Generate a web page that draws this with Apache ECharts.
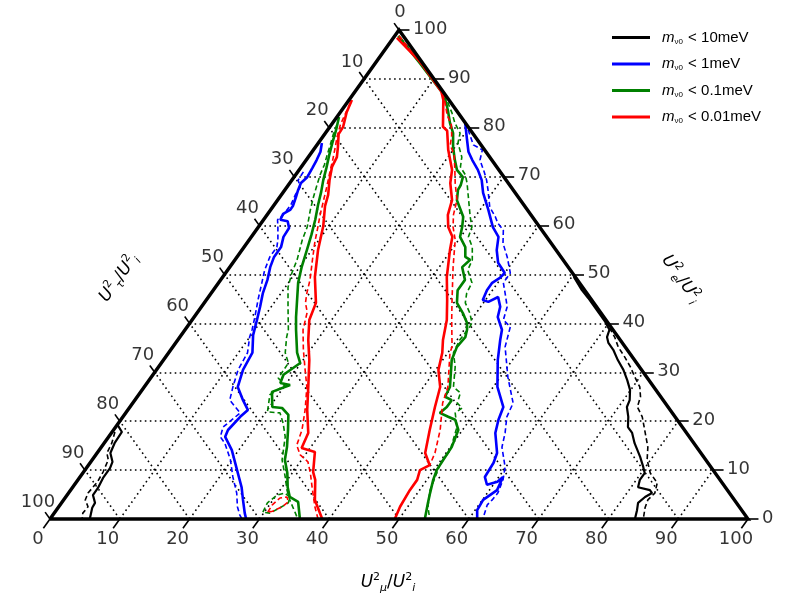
<!DOCTYPE html>
<html>
<head>
<meta charset="utf-8">
<script src="https://cdn.jsdelivr.net/npm/echarts@6/dist/echarts.min.js"></script>
<style>
html, body { margin: 0; padding: 0; background: #fff; }
#chart { width: 788px; height: 597px; }
</style>
</head>
<body>
<div id="chart"></div>
<script>
// Ternary composition plot. Every point is [U_mu^2/U_i^2, U_e^2/U_i^2] in percent;
// the U_tau^2/U_i^2 share is the remainder to 100.

const tickValues = [0, 10, 20, 30, 40, 50, 60, 70, 80, 90, 100];
const tickLabels = ['0', '10', '20', '30', '40', '50', '60', '70', '80', '90', '100'];
const gridSteps = [10, 20, 30, 40, 50, 60, 70, 80, 90];
const massLimits = ['10', '1', '0.1', '0.01'];   // m_nu0 upper limits in meV

// m_nu0 < 10 meV
const blackLeftSolid = [[0.1,19.2],[1.4,17.8],[1.5,15.5],[1.9,13.5],[3.1,11.7],[3.4,10.4],[3.4,8.4],[3.7,6.3],[3.7,4.9],[4.8,3.3],[4.9,2.3],[5.7,0]];
const blackLeftDashed = [[0.4,17.8],[1.1,15.5],[1.4,13.5],[2.3,12.1],[2.8,9.6],[3.0,7.6],[2.8,5.3],[3.1,3.9],[4.2,2.5],[4.1,1.2],[4.6,0]];
const blackRightSolid = [[50.3,49.5],[52.8,46.8],[54.5,45.2],[57.0,42.7],[59.4,40.3],[60.8,38.7],[61.2,37.2],[62.0,36.0],[63.4,34.6],[65.1,32.5],[66.9,30.5],[68.5,28.4],[69.9,26.4],[70.9,24.3],[71.2,22.9],[72.4,20.9],[73.4,18.8],[74.6,17.6],[76.0,15.5],[78.2,12.7],[79.7,10.6],[80.5,9.4],[80.5,8.0],[81.0,6.5],[83.0,5.9],[83.6,5.3],[83.0,4.5],[82.6,3.3],[83.2,1.8],[83.8,0]];
const blackRightDashed = [[60.6,39.1],[62.3,37.2],[63.8,35.2],[65.8,33.1],[67.6,31.1],[69.3,29.0],[71.0,27.0],[72.1,25.0],[72.7,22.9],[74.4,20.9],[76.1,18.2],[78.3,14.7],[79.5,12.1],[81.3,9.4],[83.3,7.4],[84.0,5.3],[83.7,3.9],[84.1,2.3],[85.0,0]];

// m_nu0 < 1 meV
const blueLeftSolid = [[0.5,76.9],[1.2,75.1],[1.5,73.4],[1.7,71.8],[1.9,69.9],[1.6,68.7],[1.9,67.3],[2.3,65.9],[2.8,64.0],[2.8,63.2],[2.2,62.4],[2.4,61.2],[3.6,60.9],[4.5,59.5],[4.6,57.7],[5.3,55.6],[5.3,53.6],[5.8,51.5],[6.7,48.9],[7.4,46.2],[8.4,43.4],[9.3,40.7],[10.3,37.6],[12.0,34.0],[12.4,30.5],[13.4,27.0],[15.5,24.3],[17.2,22.3],[16.8,20.9],[16.4,18.2],[16.7,16.8],[19.0,14.1],[21.8,10.0],[24.2,6.5],[25.7,3.9],[27.3,1.2],[28.1,0]];
const blueLeftDashed = [[0.8,71.0],[0.9,69.3],[1.9,67.9],[2.0,66.3],[2.4,64.2],[2.3,62.2],[2.0,61.2],[2.9,59.5],[4.1,57.1],[4.7,55.6],[4.7,53.6],[5.3,50.9],[6.2,48.3],[7.4,44.8],[8.7,41.3],[9.6,38.7],[10.0,37.2],[11.3,34.0],[11.7,30.5],[12.7,27.0],[13.6,24.3],[16.4,21.7],[15.4,18.8],[16.0,16.8],[17.3,15.5],[19.8,12.1],[21.9,8.6],[24.1,5.3],[25.6,2.5],[26.8,0.8],[27.5,0]];
const blueRightSolid = [[19.1,80.8],[21.0,77.5],[22.4,75.1],[23.8,73.4],[25.6,71.4],[27.2,69.3],[28.7,66.7],[31.2,63.2],[33.6,59.7],[35.4,57.7],[36.5,55.0],[38.0,52.4],[40.0,50.3],[39.8,49.3],[39.2,48.3],[39.2,46.8],[39.6,44.8],[40.6,44.4],[41.5,45.4],[42.8,43.4],[43.5,41.3],[45.4,38.7],[46.2,36.6],[47.9,32.5],[50.6,27.0],[53.5,22.9],[54.1,20.3],[55.0,17.6],[57.3,13.5],[57.8,11.5],[58.0,8.6],[59.1,7.0],[60.3,7.6],[60.6,8.6],[61.1,5.9],[60.1,3.9],[60.3,1.8],[61.2,0]];
const blueRightDashed = [[20.1,79.6],[22.4,76.5],[24.2,75.5],[24.9,73.4],[26.7,71.0],[27.9,69.3],[29.1,67.3],[31.1,63.8],[32.9,61.8],[33.9,60.5],[35.4,59.1],[36.7,56.4],[38.7,53.6],[40.8,50.3],[40.8,48.3],[42.1,46.2],[43.8,43.4],[44.6,40.7],[46.3,39.3],[47.6,35.2],[51.1,29.0],[54.5,23.7],[55.0,20.9],[56.4,17.6],[57.4,14.7],[59.9,10.6],[60.9,8.0],[61.5,5.3],[61.4,3.9],[61.2,2.9],[62.0,0]];

// m_nu0 < 0.1 meV
const greenLeftSolid = [[0.3,82.2],[1.2,79.6],[2.0,76.9],[2.8,74.4],[3.7,71.8],[4.5,69.3],[5.4,66.9],[6.3,64.2],[7.4,61.2],[8.4,58.1],[9.3,55.0],[10.3,51.5],[11.4,48.3],[13.0,44.8],[14.6,41.3],[15.9,38.7],[18.4,34.0],[19.9,31.9],[18.7,29.5],[19.1,27.8],[20.7,27.4],[18.8,26.0],[20.4,22.9],[21.9,22.7],[23.5,21.3],[25.0,18.2],[26.6,14.7],[27.6,12.1],[29.3,9.4],[30.8,6.5],[32.1,4.5],[33.8,3.5],[35.8,0]];
const greenLeftDashed = [[0.8,80.6],[1.3,78.5],[1.9,76.5],[2.5,74.4],[3.1,72.4],[3.5,70.4],[4.1,68.3],[4.9,65.6],[5.7,63.2],[7.0,59.7],[7.6,57.1],[8.9,53.0],[9.5,50.3],[10.4,47.4],[12.4,43.4],[14.8,38.7],[15.3,37.2],[16.7,34.0],[18.2,31.9],[18.3,28.8],[20.0,27.4],[18.8,25.4],[20.2,21.9],[22.1,21.7],[23.6,19.6],[25.3,16.8],[27.2,12.1],[29.4,8.6],[31.0,5.9],[32.4,3.9],[34.4,1.4],[35.5,0]];
const greenRightSolid = [[0.5,98.8],[6.5,93.1],[12.5,87.3],[13.4,86.3],[15.2,83.6],[16.8,81.0],[18.3,78.9],[19.7,76.1],[21.3,73.4],[22.6,71.4],[24.2,69.9],[24.7,68.3],[24.8,67.3],[25.7,65.2],[28.3,61.8],[29.2,59.7],[29.9,57.7],[31.7,55.6],[32.7,53.6],[33.7,53.0],[33.3,51.5],[35.0,48.9],[35.0,46.8],[36.2,44.2],[38.1,42.1],[39.7,40.1],[40.4,38.7],[40.9,37.2],[40.7,35.2],[41.3,32.5],[43.8,27.0],[44.1,25.0],[45.4,24.3],[45.4,22.9],[45.0,21.7],[46.6,20.9],[47.9,20.3],[49.4,18.2],[50.2,14.7],[50.3,12.1],[50.4,10.0],[50.9,8.0],[51.8,5.3],[52.5,3.3],[53.7,0]];
const greenRightDashed = [[1.0,98.4],[6.5,93.3],[12.7,87.1],[14.0,85.7],[16.1,83.0],[17.5,81.0],[19.3,78.9],[20.0,76.9],[22.0,74.0],[22.8,72.0],[24.3,70.4],[25.4,68.7],[29.3,61.8],[30.6,59.7],[31.1,57.7],[32.7,55.6],[34.0,53.0],[34.4,50.9],[36.3,48.3],[36.6,46.2],[37.4,44.2],[39.1,42.1],[40.4,40.1],[40.5,39.3],[40.4,36.6],[40.8,34.0],[42.5,31.1],[44.3,27.0],[45.9,25.8],[46.5,23.7],[47.7,22.7],[47.2,21.7],[48.9,18.8],[50.3,14.1],[50.2,11.5],[50.9,8.6],[51.5,5.9],[52.9,2.5],[54.4,0]];
const greenIsland = [[29.8,1.4],[29.5,3.3],[30.1,4.9],[31.0,5.3],[32.1,4.5],[32.5,3.3],[31.8,2.3],[30.9,1.2],[29.8,1.4]];

// m_nu0 < 0.01 meV
const redLeftSolid = [[0.4,85.7],[0.9,83.2],[1.9,80.2],[2.0,78.7],[3.2,76.1],[4.1,74.0],[4.4,72.0],[5.4,69.3],[6.7,66.3],[7.4,64.0],[9.2,59.9],[10.9,55.0],[13.2,49.5],[16.0,44.2],[16.8,40.7],[18.7,36.6],[20.9,32.5],[23.5,27.0],[25.7,22.3],[28.2,17.6],[28.8,14.5],[31.1,13.7],[32.9,9.6],[34.0,8.0],[36.0,3.9],[39.0,0]];
const redLeftDashed = [[0.5,85.1],[1.0,82.2],[1.3,80.6],[2.0,78.3],[2.9,75.9],[3.8,73.4],[4.6,71.0],[5.7,67.9],[6.6,65.2],[7.6,62.2],[8.6,59.5],[9.6,56.7],[11.1,53.0],[12.8,48.9],[13.7,46.2],[14.5,44.2],[15.7,42.3],[16.9,38.7],[19.0,34.6],[21.3,30.5],[23.3,27.0],[25.4,22.3],[27.0,18.2],[27.8,15.1],[29.3,13.1],[31.1,11.7],[32.6,9.4],[34.3,6.5],[36.7,2.5],[38.4,0]];
const redRightSolid = [[0.5,98.4],[6.3,93.5],[12.3,87.5],[13.5,85.7],[16.2,80.2],[17.2,79.4],[19.3,75.5],[21.9,71.4],[23.0,68.7],[25.0,65.2],[25.9,62.2],[27.2,59.7],[28.8,57.7],[29.8,55.0],[32.1,49.5],[34.5,44.8],[36.5,40.7],[38.0,36.6],[39.2,34.0],[40.4,30.5],[42.4,27.0],[43.7,22.9],[45.3,18.2],[47.0,13.5],[48.9,11.0],[48.0,10.0],[48.6,8.0],[48.6,5.9],[48.9,2.5],[49.4,0]];
const redRightDashed = [[0.6,98.8],[6.6,93.1],[12.9,86.9],[14.3,84.7],[15.6,82.6],[17.2,80.6],[18.3,78.5],[19.1,76.5],[20.7,74.4],[22.3,71.4],[23.7,68.7],[25.7,65.2],[26.7,62.2],[27.9,59.7],[29.5,57.1],[32.0,51.5],[35.2,44.8],[37.2,40.7],[40.0,35.2],[40.3,34.0],[43.5,27.0],[44.4,23.7],[46.8,18.2],[48.4,13.5],[48.9,11.0]];
const redIsland = [[30.5,1.4],[30.4,2.9],[30.8,4.3],[31.7,4.5],[32.4,3.5],[32.0,2.5],[31.1,1.6],[30.5,1.4]];

// ---------------------------------------------------------------------------
// Ternary -> plane: x runs along the mu axis, y is the e share.
const toXY = p => [p[0] + p[1] / 2, p[1]];

const FONT = 'DejaVu Sans';
const seriesList = [];

// dotted grid: constant e, constant mu, constant tau
const gridCoords = [];
gridSteps.forEach(k => {
  gridCoords.push({ coords: [toXY([0, k]), toXY([100 - k, k])] });
  gridCoords.push({ coords: [toXY([k, 0]), toXY([k, 100 - k])] });
  gridCoords.push({ coords: [toXY([100 - k, 0]), toXY([0, 100 - k])] });
});
seriesList.push({
  type: 'lines', coordinateSystem: 'cartesian2d', silent: true, z: 1, clip: false,
  data: gridCoords,
  lineStyle: { color: '#000', width: 1.6, type: [1.6, 3.4], opacity: 1 }
});

// curves
function curve(name, pts, color, dashed) {
  seriesList.push({
    name: name, type: 'line', data: pts.map(toXY), z: 3, clip: false,
    symbol: 'none', showSymbol: false, silent: true, smooth: false,
    itemStyle: { color: color },
    lineStyle: dashed ? { color: color, width: 1.6, type: [5, 3] }
                      : { color: color, width: color === '#000000' ? 2.2 : 2.6, type: 'solid' },
    emphasis: { disabled: true }
  });
}
const S_BLACK = 'lim0', S_BLUE = 'lim1', S_GREEN = 'lim2', S_RED = 'lim3';
curve(S_BLACK, blackLeftSolid, '#000000', false);
curve(S_BLACK, blackRightSolid, '#000000', false);
curve(S_BLACK, blackLeftDashed, '#000000', true);
curve(S_BLACK, blackRightDashed, '#000000', true);
curve(S_BLUE, blueLeftSolid, '#0000ff', false);
curve(S_BLUE, blueRightSolid, '#0000ff', false);
curve(S_BLUE, blueLeftDashed, '#0000ff', true);
curve(S_BLUE, blueRightDashed, '#0000ff', true);
curve(S_GREEN, greenLeftSolid, '#008000', false);
curve(S_GREEN, greenRightSolid, '#008000', false);
curve(S_GREEN, greenLeftDashed, '#008000', true);
curve(S_GREEN, greenRightDashed, '#008000', true);
curve(S_GREEN, greenIsland, '#008000', true);
curve(S_RED, redLeftSolid, '#ff0000', false);
curve(S_RED, redRightSolid, '#ff0000', false);
curve(S_RED, redLeftDashed, '#ff0000', true);
curve(S_RED, redRightDashed, '#ff0000', true);
curve(S_RED, redIsland, '#ff0000', true);

// triangle frame
seriesList.push({
  type: 'lines', coordinateSystem: 'cartesian2d', polyline: true, silent: true, z: 5, clip: false,
  data: [{ coords: [toXY([0, 0]), toXY([100, 0]), toXY([0, 100]), toXY([0, 0])] }],
  lineStyle: { color: '#000', width: 3.4, opacity: 1, join: 'miter' }
});

// ticks on the three sides
const tickCoords = [];
tickValues.forEach(v => {
  tickCoords.push({ coords: [toXY([v, 0]), toXY([v, -1.9])] });                  // mu axis
  tickCoords.push({ coords: [toXY([100 - v, v]), toXY([100 - v + 1.5, v])] });   // e axis
  tickCoords.push({ coords: [toXY([0, 100 - v]), toXY([-1.4, 100 - v + 1.4])] }); // tau axis
});
seriesList.push({
  type: 'lines', coordinateSystem: 'cartesian2d', silent: true, z: 5, clip: false,
  data: tickCoords,
  lineStyle: { color: '#000', width: 1.6, opacity: 1 }
});

// tick labels
const labelFont = { fontFamily: FONT, fontSize: 18, color: '#000' };
function tickLabelSeries(points, labelCfg) {
  seriesList.push({
    type: 'scatter', silent: true, z: 6, symbolSize: 1, clip: false,
    itemStyle: { color: 'rgba(0,0,0,0)' },
    data: points,
    label: Object.assign({ show: true, position: 'inside', formatter: p => p.data.text }, labelFont, labelCfg),
    emphasis: { disabled: true }
  });
}
tickLabelSeries(tickValues.map((v, i) => ({ value: toXY([v, 0]), text: tickLabels[i] })),
  { offset: [-12, 20] });
tickLabelSeries(tickValues.map((v, i) => ({ value: toXY([100 - v, v]), text: tickLabels[i] })),
  { align: 'left', offset: [14, -1] });
tickLabelSeries(tickValues.map((v, i) => {
  const item = { value: toXY([0, 100 - v]), text: tickLabels[i] };
  if (v === 0) item.label = { offset: [1, -18] };   // apex label sits above the corner
  return item;
}), { offset: [-12, -17] });

// axis titles with super/subscripts
const titleRich = {
  u: { fontFamily: FONT, fontStyle: 'italic', fontSize: 17, lineHeight: 26, fill: '#000', color: '#000' },
  p: { fontFamily: FONT, fontSize: 11, lineHeight: 26, verticalAlign: 'top', fill: '#000', color: '#000', padding: [2, 0, 0, 0] },
  b: { fontFamily: FONT, fontStyle: 'italic', fontSize: 11, lineHeight: 26, verticalAlign: 'bottom', fill: '#000', color: '#000', padding: [0, 0, 2, 0] },
  s: { fontFamily: FONT, fontSize: 17, lineHeight: 26, fill: '#000', color: '#000' }
};
function axisTitle(sub, x, y, rot) {
  return {
    type: 'text', x: x, y: y, rotation: rot, silent: true, z: 10,
    style: {
      text: '{u|U}{p|2}{b|' + sub + '}{s|/}{u|U}{p|2}{b|i}',
      rich: titleRich,
      align: 'center', verticalAlign: 'middle',
      textAlign: 'center', textVerticalAlign: 'middle'
    }
  };
}
const SLOPE = Math.atan2(489, 349);

const legendRich = {
  m: { fontFamily: 'Liberation Sans', fontStyle: 'italic', fontSize: 15, lineHeight: 18, color: '#000', padding: [0, 0, 0, 7] },
  s: { fontFamily: 'Liberation Sans', fontSize: 8, lineHeight: 18, color: '#000', verticalAlign: 'bottom', padding: [0, 1, 1, 0] },
  t: { fontFamily: 'Liberation Sans', fontSize: 15, lineHeight: 18, color: '#000' }
};
const legendNames = [S_BLACK, S_BLUE, S_GREEN, S_RED];

const chart = echarts.init(document.getElementById('chart'), null, { renderer: 'canvas' });
chart.setOption({
  animation: false,
  backgroundColor: '#fff',
  grid: { left: 50, top: 30, width: 698, height: 489, containLabel: false },
  xAxis: { type: 'value', min: 0, max: 100, show: false },
  yAxis: { type: 'value', min: 0, max: 100, show: false },
  legend: {
    orient: 'vertical', left: 612, top: 30, padding: 0,
    itemWidth: 38, itemHeight: 3, itemGap: 10, icon: 'rect',
    selectedMode: false,
    data: legendNames,
    formatter: name => '{m|m}{s|ν0}{t| < ' + massLimits[legendNames.indexOf(name)] + 'meV}',
    textStyle: { rich: legendRich, fontSize: 15, color: '#000' }
  },
  graphic: [
    axisTitle('μ', 388, 583, 0),
    axisTitle('τ', 119, 278, SLOPE),
    axisTitle('e', 681, 279, -SLOPE)
  ],
  series: seriesList
});
</script>
</body>
</html>
